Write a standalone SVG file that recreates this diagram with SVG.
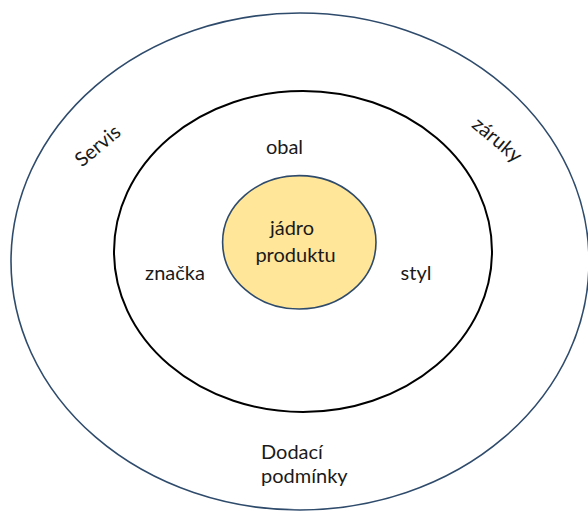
<svg xmlns="http://www.w3.org/2000/svg" width="588" height="511" viewBox="0 0 588 511">
<style>
.t{font-family:Lato,"Open Sans","Liberation Sans",sans-serif;font-size:20px;fill:#1a1a1a}
.m{text-anchor:middle}
</style>
<rect width="588" height="511" fill="#ffffff"/>
<g id="outer">
<ellipse cx="300" cy="261.5" rx="289" ry="248.5" fill="none" stroke="#2f4b6c" stroke-width="1.6"/>
<text class="t m" transform="translate(102,151) rotate(-40)">Servis</text>
<text class="t m" transform="translate(493,145) rotate(40)">záruky</text>
<text class="t" x="261" y="459">Dodací</text>
<text class="t" x="261" y="483">podmínky</text>
</g>
<g id="middle">
<ellipse cx="303" cy="251.5" rx="189" ry="160.5" fill="none" stroke="#000000" stroke-width="2"/>
<text class="t m" x="284.5" y="154">obal</text>
<text class="t m" x="175" y="280">značka</text>
<text class="t m" x="416" y="280">styl</text>
</g>
<g id="core">
<ellipse cx="299.3" cy="242.3" rx="76.7" ry="66.7" fill="#ffe699" stroke="#2f4b6c" stroke-width="1.6"/>
<text class="t m" x="292" y="235">jádro</text>
<text class="t m" x="295.5" y="262">produktu</text>
</g>
</svg>
